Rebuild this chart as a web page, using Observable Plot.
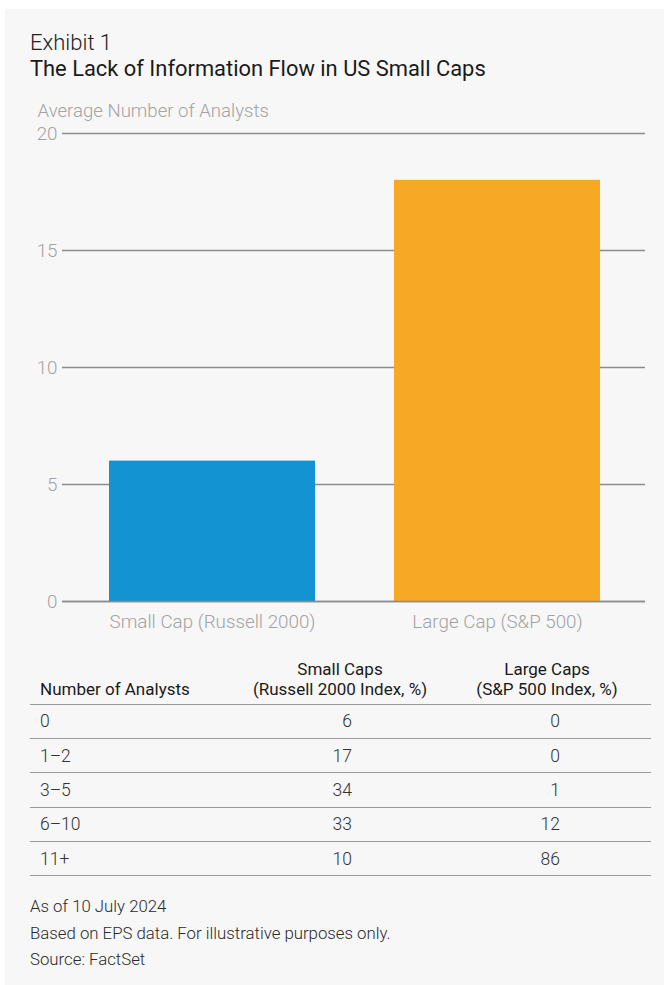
<!DOCTYPE html>
<html>
<head>
<meta charset="utf-8">
<script src="https://cdn.jsdelivr.net/npm/d3@7"></script>
<script src="https://cdn.jsdelivr.net/npm/@observablehq/plot@0.6"></script>
<style>
  html, body { margin: 0; padding: 0; background: #ffffff; font-family: Roboto, "Noto Sans", sans-serif; }
  #panel { position: absolute; left: 5px; top: 9px; width: 659px; height: 976px; background: #f7f7f7; }
  #content { position: absolute; left: 0; top: 0; width: 667px; height: 985px; }
  .abs { position: absolute; white-space: nowrap; }
  #t1 { left: 30px; top: 30px; font-size: 22px; font-weight: 300; color: #222; line-height: 26px; }
  #t2 { left: 30px; top: 56px; font-size: 21.9px; font-weight: 400; color: #1a1a1a; line-height: 26px; }
  #chart { left: 0; top: 90px; }
  #table { left: 30px; top: 655px; width: 621px; }
  .row { display: flex; box-sizing: border-box; border-bottom: 1.5px solid #9a9a9a; align-items: center; }
  .hdr { height: 49.5px; align-items: flex-end; padding-bottom: 5px; font-size: 17px; color: #1a1a1a; }
  .body { height: 34.4px; font-size: 17.5px; color: #333; font-weight: 300; }
  .c1 { width: 207px; padding-left: 10px; box-sizing: border-box; }
  .c2 { width: 206px; box-sizing: border-box; }
  .c3 { width: 208px; box-sizing: border-box; }
  .hdr .c2, .hdr .c3 { text-align: center; line-height: 20px; }
  .body .c2, .body .c3 { text-align: right; padding-right: 91px; }
  #notes { left: 30px; top: 893px; font-size: 16.8px; color: #2a2a2a; line-height: 26.5px; font-weight: 300; }
</style>
</head>
<body>
<div id="panel"></div>
<div id="content">
  <div id="t1" class="abs">Exhibit 1</div>
  <div id="t2" class="abs">The Lack of Information Flow in US Small Caps</div>
  <div id="chart" class="abs"></div>
  <div id="table" class="abs"></div>
  <div id="notes" class="abs"></div>
</div>
<script>
// ---- Chart data ----
const categories = ["Small Cap (Russell 2000)", "Large Cap (S&P 500)"];
const avgAnalysts = [6, 18];
const barColors = ["#1493d2", "#f7a925"];
const yTicks = [0, 5, 10, 15, 20];
const yLabel = "Average Number of Analysts";

// ---- Table data ----
const tableHeaders = ["Number of Analysts", "Small Caps\n(Russell 2000 Index, %)", "Large Caps\n(S&P 500 Index, %)"];
const analystBuckets = ["0", "1\u20132", "3\u20135", "6\u201310", "11+"];
const smallCapPct = [6, 17, 34, 33, 10];
const largeCapPct = [0, 0, 1, 12, 86];

const notes = ["As of 10 July 2024", "Based on EPS data. For illustrative purposes only.", "Source: FactSet"];

const data = categories.map((c, i) => ({category: c, value: avgAnalysts[i], color: barColors[i]}));

const chart = Plot.plot({
  width: 667,
  height: 551,
  marginTop: 43,
  marginBottom: 40,
  marginLeft: 62,
  marginRight: 22,
  style: {background: "transparent", fontFamily: "Roboto, sans-serif", fontSize: "18.8px", fontWeight: 300},
  x: {domain: categories, range: [69.5, 639.5], paddingInner: 0.2772, paddingOuter: 0.1386, label: null},
  y: {domain: [0, 20], label: null},
  marks: [
    Plot.ruleY(yTicks, {stroke: "#8c8c8c", strokeWidth: 1.5}),
    Plot.barY(data, {x: "category", y: "value", fill: "color"}),
    Plot.ruleY([0], {stroke: "#8c8c8c", strokeWidth: 1.5}),
    Plot.axisY(yTicks, {tickSize: 0, tickPadding: 5, fill: "#a3a3a3", fontSize: 18.8, label: null}),
    Plot.axisX({tickSize: 0, tickPadding: 13, fill: "#a3a3a3", fontSize: 18.8, label: null}),
    Plot.text([yLabel], {frameAnchor: "top-left", dx: -25, dy: -30, textAnchor: "start", fill: "#a3a3a3", fontSize: 18.6, fontWeight: 300})
  ]
});
document.getElementById("chart").appendChild(chart);

// ---- Table ----
const table = document.getElementById("table");
function makeRow(cls, cells) {
  const r = document.createElement("div");
  r.className = "row " + cls;
  cells.forEach((txt, j) => {
    const c = document.createElement("div");
    c.className = "c" + (j + 1);
    String(txt).split("\n").forEach((line, k) => {
      if (k) c.appendChild(document.createElement("br"));
      c.appendChild(document.createTextNode(line));
    });
    r.appendChild(c);
  });
  table.appendChild(r);
}
makeRow("hdr", tableHeaders);
analystBuckets.forEach((b, i) => makeRow("body", [b, smallCapPct[i], largeCapPct[i]]));

const notesEl = document.getElementById("notes");
notes.forEach(n => { const d = document.createElement("div"); d.textContent = n; notesEl.appendChild(d); });
</script>
</body>
</html>
